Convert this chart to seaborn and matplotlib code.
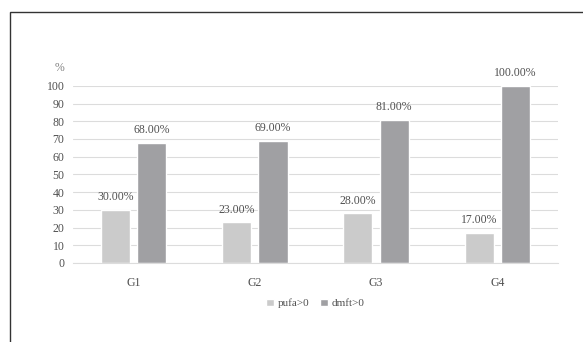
import matplotlib
matplotlib.use("Agg")
import matplotlib.pyplot as plt
import seaborn as sns
import pandas as pd
from matplotlib.patches import Rectangle

groups = ["G1", "G2", "G3", "G4"]
pufa = [30, 23, 28, 17]
dmft = [68, 69, 81, 100]
series_names = ["pufa>0", "dmft>0"]
yticks = [0, 10, 20, 30, 40, 50, 60, 70, 80, 90, 100]

df = pd.DataFrame({
    "group": groups * 2,
    "value": pufa + dmft,
    "series": [series_names[0]] * len(groups) + [series_names[1]] * len(groups),
})

sns.set_style("white")
plt.rcParams["font.family"] = ["Liberation Serif", "DejaVu Serif"]
text_color = "#505050"
palette = {"pufa>0": "#cbcbcb", "dmft>0": "#a0a0a3"}

fig = plt.figure(figsize=(5.83, 3.42), dpi=100)
ax = fig.add_axes([0.125, 0.231, 0.832, 0.518])

sns.barplot(data=df, x="group", y="value", hue="series", palette=palette,
            width=0.6, gap=0.2, ax=ax, legend=True, saturation=1)

ax.set_ylim(0, 100)
ax.set_yticks(yticks)
ax.set_xlim(-0.5, 3.5)
ax.yaxis.grid(True, color="#dcdcdc", linewidth=0.8)
ax.set_axisbelow(True)
for s in ["top", "right", "left"]:
    ax.spines[s].set_visible(False)
ax.spines["bottom"].set_color("#dcdcdc")
ax.spines["bottom"].set_linewidth(0.8)
ax.tick_params(axis="both", length=0, colors=text_color, labelsize=8.5)
ax.tick_params(axis="x", pad=10)
ax.tick_params(axis="y", pad=6)
ax.set_xlabel("")
ax.set_ylabel("")

for cont in ax.containers:
    for bar in cont:
        h = bar.get_height()
        ax.text(bar.get_x() + bar.get_width() / 2, h + 3.8, f"{h:.2f}%",
                ha="center", va="bottom", fontsize=8.5, color=text_color,
                clip_on=False)

ax.text(-0.027, 1.1, "%", transform=ax.transAxes, ha="center", va="center",
        fontsize=8.5, color="#808080")

handles, labels = ax.get_legend_handles_labels()
ax.legend(handles, labels, loc="center", bbox_to_anchor=(0.5, -0.228),
          ncol=2, frameon=False, fontsize=8, handlelength=0.7,
          handleheight=0.7, handletextpad=0.3, columnspacing=1.0,
          labelcolor=text_color)

# outer frame
fig.patches.append(Rectangle((10 / 583, -0.1), 1.2, 1 - 12 / 342 + 0.1,
                             transform=fig.transFigure, fill=False,
                             edgecolor="#333333", linewidth=1.0))

fig.savefig("out.png", dpi=100)
